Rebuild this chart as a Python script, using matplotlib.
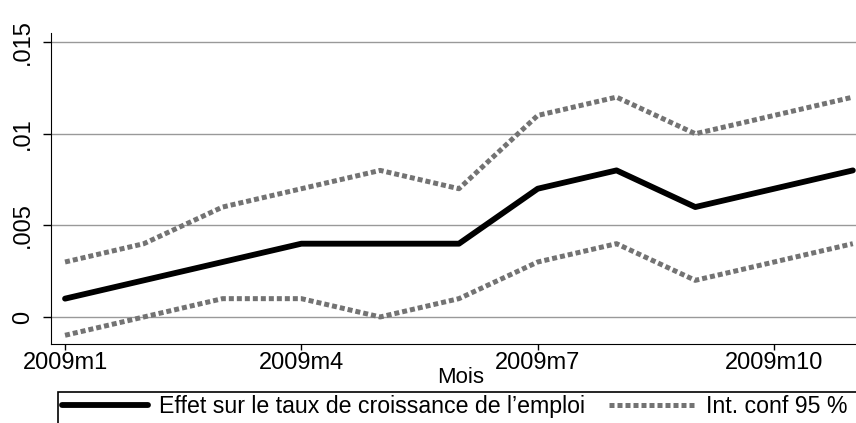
import numpy as np
import matplotlib.pyplot as plt
from matplotlib.patches import Rectangle

# monthly effect with 95% CI, Jan-Nov 2009
months = np.arange(1, 12)
effet = [0.001, 0.002, 0.003, 0.004, 0.004, 0.004, 0.007, 0.008, 0.006, 0.007, 0.008]
ci_haut = [0.003, 0.004, 0.006, 0.007, 0.008, 0.007, 0.011, 0.012, 0.010, 0.011, 0.012]
ci_bas = [-0.001, 0.000, 0.001, 0.001, 0.000, 0.001, 0.003, 0.004, 0.002, 0.003, 0.004]
xticks = [1, 4, 7, 10]
xlabels = ["2009m1", "2009m4", "2009m7", "2009m10"]
yticks = [0, 0.005, 0.01, 0.015]
ylabels = ["0", ".005", ".01", ".015"]

plt.rcParams['font.family'] = ['Liberation Sans', 'DejaVu Sans']

fs = 17
fig = plt.figure(figsize=(8.56, 4.23), dpi=100)
ax = fig.add_axes([0.0596, 0.187, 0.9404, 0.735])

gris = "#737373"
l1, = ax.plot(months, effet, color="black", lw=4.2, solid_capstyle="round",
              solid_joinstyle="round", label="Effet sur le taux de croissance de l\u2019emploi")
l2, = ax.plot(months, ci_haut, color=gris, lw=3.6, dashes=(1, 0.6),
              dash_capstyle="butt", label="Int. conf 95 %")
ax.plot(months, ci_bas, color=gris, lw=3.6, dashes=(1, 0.6), dash_capstyle="butt")

ax.set_xlim(0.822, 11.04)
ax.set_ylim(-0.00147, 0.0155)
ax.set_xticks(xticks)
ax.set_xticklabels(xlabels, fontsize=fs)
ax.set_yticks(yticks)
ax.set_yticklabels(ylabels, fontsize=fs, rotation=90, va="center")
ax.tick_params(axis="x", direction="out", length=4.5, width=1, pad=1.5)
ax.tick_params(axis="y", direction="out", length=6, width=1, pad=6.5)
ax.grid(axis="y", color="#999999", lw=1)
ax.set_axisbelow(True)
for s in ["top", "right"]:
    ax.spines[s].set_visible(False)
ax.set_xlabel("Mois", fontsize=16, labelpad=-5)
ax.xaxis.label.set_x(0.509)

leg = fig.legend(handles=[l1, l2], loc="upper left", bbox_to_anchor=(62 / 856, 1 - 395 / 423),
                 ncol=2, fontsize=16.7, frameon=False, handlelength=3.7,
                 columnspacing=1.0, borderpad=0, borderaxespad=0, handletextpad=0.5)

# legend frame runs off the bottom and right of the picture
fig.add_artist(Rectangle((58 / 856, -0.2), 2, 0.2 + 1 - 392 / 423, transform=fig.transFigure,
                         fill=False, lw=1.2, edgecolor="black", clip_on=False))

fig.savefig("out.png", dpi=100)
